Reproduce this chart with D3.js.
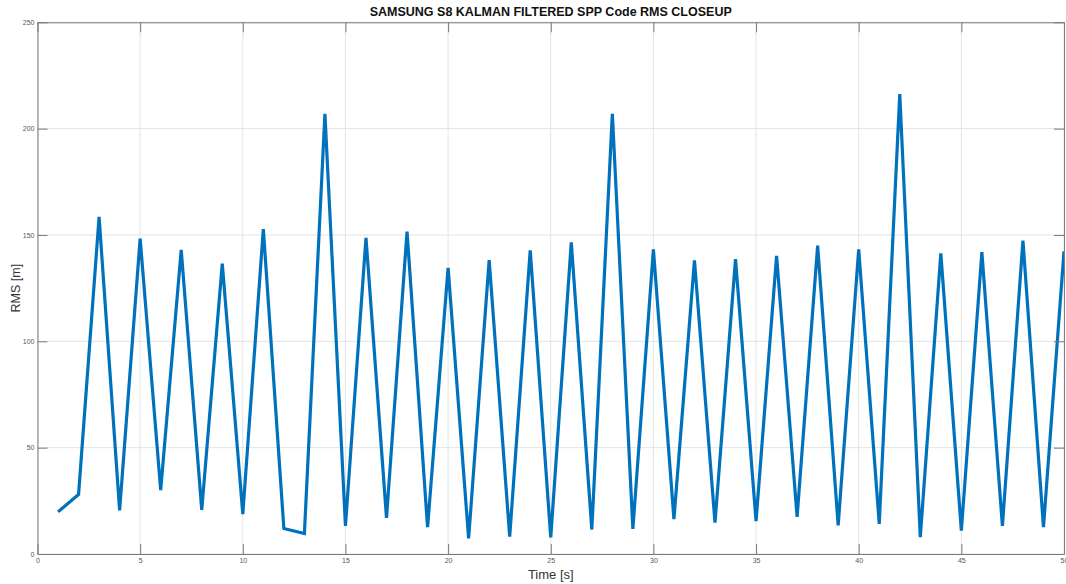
<!DOCTYPE html>
<html>
<head>
<meta charset="utf-8">
<script src="https://cdn.jsdelivr.net/npm/d3@7"></script>
<style>
  html, body { margin: 0; padding: 0; background: #fff; }
  svg { display: block; }
</style>
</head>
<body>
<svg id="chart" width="1066" height="584"></svg>
<script>
const titleText = "SAMSUNG S8 KALMAN FILTERED SPP Code RMS CLOSEUP";
const xLabel = "Time [s]";
const yLabel = "RMS [m]";
const timeValues = [1,2,3,4,5,6,7,8,9,10,11,12,13,14,15,16,17,18,19,20,21,22,23,24,25,26,27,28,29,30,31,32,33,34,35,36,37,38,39,40,41,42,43,44,45,46,47,48,49,50];
const rmsValues = [19.8,28,158.5,20.5,148.3,30,143,20.8,136.5,18.8,152.8,12,9.6,207,13.2,148.7,17,151.6,12.6,134.5,7.3,138.2,8.2,142.8,7.8,146.5,11.5,207,11.8,143.2,16.4,138.1,14.7,138.6,15.4,140.2,17.5,145,13.5,143.2,14.2,216.3,7.9,141.4,11,141.9,13.2,147.4,12.6,142.3];
const xTicks = [0,5,10,15,20,25,30,35,40,45,50];
const yTicks = [0,50,100,150,200,250];

const svg = d3.select("#chart");
const W = 1066, H = 584;
const m = { left: 37.5, top: 22.3, right: 2, bottom: 30 };
const x0 = m.left, x1 = W - m.right, y0 = H - m.bottom, y1 = m.top;

const x = d3.scaleLinear().domain([0, 50]).range([x0, x1]);
const y = d3.scaleLinear().domain([0, 250]).range([y0, y1]);

// grid
const grid = svg.append("g");
grid.selectAll("line.vx").data(xTicks).join("line")
  .attr("x1", d => x(d)).attr("x2", d => x(d))
  .attr("y1", y1).attr("y2", y0)
  .attr("stroke", "#e3e3e3").attr("stroke-width", 1);
grid.selectAll("line.hy").data(yTicks).join("line")
  .attr("y1", d => y(d)).attr("y2", d => y(d))
  .attr("x1", x0).attr("x2", x1)
  .attr("stroke", "#e3e3e3").attr("stroke-width", 1);

// data line
const clipId = "plotclip";
svg.append("clipPath").attr("id", clipId).append("rect")
  .attr("x", x0).attr("y", y1).attr("width", x1 - x0).attr("height", y0 - y1);

const data = timeValues.map((t, i) => ({ t, v: rmsValues[i] }));
svg.append("path")
  .datum(data)
  .attr("clip-path", `url(#${clipId})`)
  .attr("fill", "none")
  .attr("stroke", "#0072BD")
  .attr("stroke-width", 3.2)
  .attr("stroke-linejoin", "miter")
  .attr("d", d3.line().x(d => x(d.t)).y(d => y(d.v)));

// axes (MATLAB-like, inward ticks, box)
const axisColor = "#7a7a7a";
const tickLen = 10;
const fontFam = "'Liberation Sans', Arial, Helvetica, sans-serif";

const xb = svg.append("g").attr("transform", `translate(0,${y0})`)
  .call(d3.axisBottom(x).tickValues(xTicks).tickSizeInner(-tickLen).tickSizeOuter(0).tickPadding(4).tickFormat(d3.format("d")));
const xt = svg.append("g").attr("transform", `translate(0,${y1})`)
  .call(d3.axisTop(x).tickValues(xTicks).tickSizeInner(-tickLen).tickSizeOuter(0).tickFormat(""));
const yl = svg.append("g").attr("transform", `translate(${x0},0)`)
  .call(d3.axisLeft(y).tickValues(yTicks).tickSizeInner(-tickLen).tickSizeOuter(0).tickPadding(4).tickFormat(d3.format("d")));
const yr = svg.append("g").attr("transform", `translate(${x1},0)`)
  .call(d3.axisRight(y).tickValues(yTicks).tickSizeInner(-tickLen).tickSizeOuter(0).tickFormat(""));

[xb, xt, yl, yr].forEach(g => {
  g.select(".domain").attr("stroke", axisColor).attr("stroke-width", 1);
  g.selectAll(".tick line").attr("stroke", axisColor).attr("stroke-width", 1);
  g.selectAll(".tick text").attr("fill", "#555").style("font-size", "7px").style("font-family", fontFam);
});
xb.selectAll(".tick text").attr("y", 4);
yl.selectAll(".tick text").attr("x", -3);

// title
svg.append("text")
  .attr("x", (x0 + x1) / 2).attr("y", 16)
  .attr("text-anchor", "middle")
  .style("font-family", fontFam).style("font-weight", "bold").style("font-size", "12.5px")
  .attr("fill", "#111")
  .text(titleText);

// axis labels
svg.append("text")
  .attr("x", (x0 + x1) / 2).attr("y", 579)
  .attr("text-anchor", "middle")
  .style("font-family", fontFam).style("font-size", "13px")
  .attr("fill", "#333")
  .text(xLabel);

svg.append("text")
  .attr("transform", `translate(20,${(y0 + y1) / 2}) rotate(-90)`)
  .attr("text-anchor", "middle")
  .style("font-family", fontFam).style("font-size", "12.5px")
  .attr("fill", "#333")
  .text(yLabel);
</script>
</body>
</html>
